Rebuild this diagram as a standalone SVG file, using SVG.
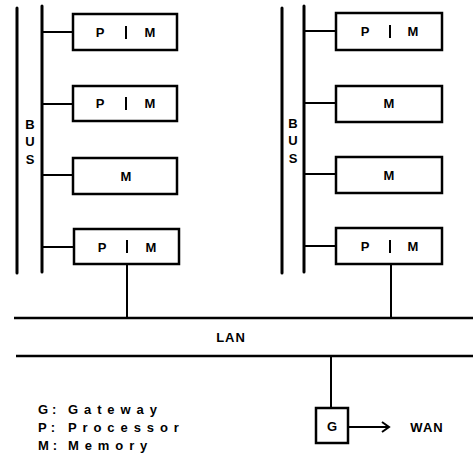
<svg xmlns="http://www.w3.org/2000/svg" width="473" height="456" viewBox="0 0 473 456">
<style>
.bus{stroke:#000;stroke-width:3;fill:none;stroke-linecap:round}
.box{stroke:#000;stroke-width:2.5;fill:#fff}
.ln{stroke:#000;stroke-width:2;fill:none}
.lan{stroke:#000;stroke-width:2.5;fill:none}
.lbl{font-family:"Liberation Sans",Arial,sans-serif;font-weight:bold;font-size:13px;text-anchor:middle;dominant-baseline:central;fill:#000}
.leg{font-family:"Liberation Sans",Arial,sans-serif;font-weight:bold;font-size:13px;fill:#000;letter-spacing:5.9px}
.key{font-family:"Liberation Sans",Arial,sans-serif;font-weight:bold;font-size:13px;fill:#000;letter-spacing:4px}
</style>
<rect width="473" height="456" fill="#fff"/>
<g id="connectors">
<line class="ln" x1="42" y1="32" x2="73" y2="32"/>
<line class="ln" x1="42" y1="104" x2="73" y2="104"/>
<line class="ln" x1="42" y1="175" x2="73" y2="175"/>
<line class="ln" x1="42" y1="247" x2="74" y2="247"/>
<line class="ln" x1="304" y1="31" x2="336" y2="31"/>
<line class="ln" x1="304" y1="103" x2="336" y2="103"/>
<line class="ln" x1="304" y1="174" x2="336" y2="174"/>
<line class="ln" x1="304" y1="246" x2="336" y2="246"/>
<line class="ln" x1="127" y1="264" x2="127" y2="318"/>
<line class="ln" x1="391" y1="264" x2="391" y2="318"/>
<line class="ln" x1="331" y1="356" x2="331" y2="408"/>
<line class="ln" x1="348" y1="427" x2="388" y2="427"/>
<polyline class="ln" points="382,422 389,427 382,432"/>
</g>
<g id="bus-left">
<line class="bus" x1="17" y1="8" x2="17" y2="273"/>
<line class="bus" x1="42" y1="6" x2="42" y2="272"/>
<text class="lbl" x="30" y="124">B</text>
<text class="lbl" x="30" y="141">U</text>
<text class="lbl" x="30" y="159">S</text>
</g>
<g id="bus-right">
<line class="bus" x1="282" y1="8" x2="282" y2="273"/>
<line class="bus" x1="304" y1="6" x2="304" y2="272"/>
<text class="lbl" x="293" y="123">B</text>
<text class="lbl" x="293" y="140">U</text>
<text class="lbl" x="293" y="158">S</text>
</g>
<g id="L1"><rect class="box" x="73" y="14" width="104" height="36"/><text class="lbl" x="100" y="32">P</text><line class="ln" x1="126" y1="26" x2="126" y2="39"/><text class="lbl" x="150" y="32">M</text></g>
<g id="L2"><rect class="box" x="73" y="86" width="104" height="35"/><text class="lbl" x="100" y="103">P</text><line class="ln" x1="126" y1="97" x2="126" y2="110"/><text class="lbl" x="150" y="103">M</text></g>
<g id="L3"><rect class="box" x="73" y="158" width="104" height="36"/><text class="lbl" x="126" y="176">M</text></g>
<g id="L4"><rect class="box" x="74" y="229" width="105" height="35"/><text class="lbl" x="102" y="247">P</text><line class="ln" x1="127" y1="240" x2="127" y2="253"/><text class="lbl" x="151" y="247">M</text></g>
<g id="R1"><rect class="box" x="336" y="13" width="106" height="37"/><text class="lbl" x="365" y="31">P</text><line class="ln" x1="390" y1="25" x2="390" y2="38"/><text class="lbl" x="413" y="31">M</text></g>
<g id="R2"><rect class="box" x="336" y="86" width="106" height="36"/><text class="lbl" x="389" y="103">M</text></g>
<g id="R3"><rect class="box" x="336" y="157" width="106" height="36"/><text class="lbl" x="389" y="175">M</text></g>
<g id="R4"><rect class="box" x="336" y="228" width="106" height="36"/><text class="lbl" x="365" y="246">P</text><line class="ln" x1="390" y1="240" x2="390" y2="253"/><text class="lbl" x="413" y="246">M</text></g>
<g id="LAN">
<line class="lan" x1="14" y1="318" x2="473" y2="318"/>
<line class="lan" x1="16" y1="356" x2="473" y2="356"/>
<text class="lbl" x="231" y="337" style="letter-spacing:1px">LAN</text>
</g>
<g id="G"><rect class="box" x="316" y="408" width="32" height="35"/><text class="lbl" x="332" y="426">G</text></g>
<g id="WAN"><text class="lbl" x="427" y="427" style="letter-spacing:1px">WAN</text></g>
<g id="legend">
<text class="key" x="38" y="413.5">G:</text><text class="leg" x="68" y="413.5">Gateway</text>
<text class="key" x="38" y="431.5">P:</text><text class="leg" x="68" y="431.5">Processor</text>
<text class="key" x="38" y="449.5">M:</text><text class="leg" x="68" y="449.5">Memory</text>
</g>
</svg>
